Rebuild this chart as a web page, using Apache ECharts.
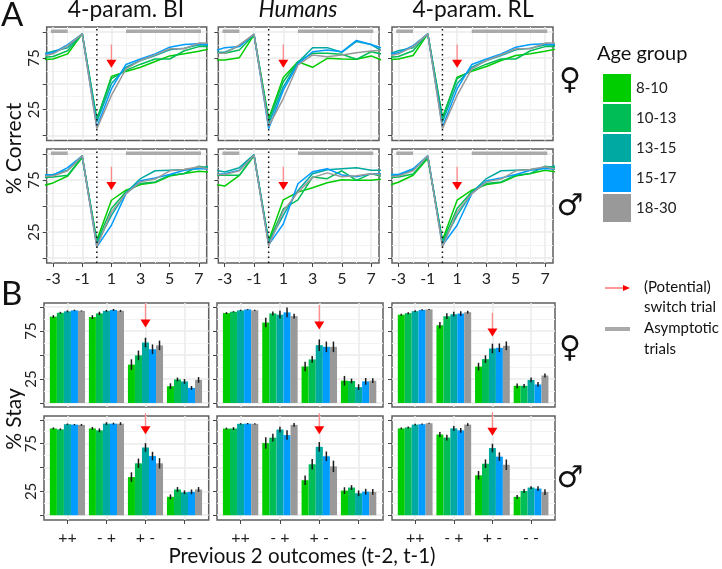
<!DOCTYPE html>
<html><head><meta charset="utf-8">
<style>html,body{margin:0;padding:0;background:#fff}#c{width:722px;height:569px}</style>
<script src="https://cdn.jsdelivr.net/npm/echarts@6/dist/echarts.min.js"></script>
</head><body><div id="c"></div>
<script>
// ---------- data ----------
const ageGroups = ['8-10','10-13','13-15','15-17','18-30'];
const ageColors = ['#00cd00','#00bd55','#00a9a1','#009cff','#999999'];
const trials = [-4,-3,-2,-1,0,1,2,3,4,5,6,7,8];
const trialTicks = [-3,-1,1,3,5,7];
const trialMinor = [-2,0,2,4,6];
const pctTicks = [0,25,50,75,100];
const pctMinor = [12.5,37.5,62.5,87.5];
const pctLabels = [25,75];
const outcomes = ['++','- +','+ -','- -'];
const outcomeIdx = [0,1,2,3];
const asymptotic = [[-3.15,101],[-2,101],[null,null],[2,101],[7.15,101]];

const correctFemaleBI = [
 [73,74,79,98.4,14.5,57,62,66,71.6,77,79,81.6,84.5],
 [75,76.5,82,98.4,16,55,63,69,74,74,82,86,86],
 [77.4,81.6,85,98.4,13,50,66,72.6,77.4,83,84.5,87.7,87],
 [78,80,88,98.4,8,45,68.7,74,79,85.5,88,88.7,87.7],
 [75.8,79,87,98.4,6.5,38.7,64.5,72.6,78,84,84,89.4,89.4]];
const correctFemaleHuman = [
 [73,73,75.3,97.4,16.2,56,71.4,66,74.7,74,73.7,77,71.4],
 [79.5,79.5,82.8,97.4,14.6,52,71.4,79.5,79.5,78.6,73.7,81,78],
 [80.5,80.5,86.7,98,11.4,47,70.5,85,85,80.5,91,88,79.5],
 [80.5,85,86,98,6.5,43.8,69,81,82.8,81,92,88,83.4],
 [79.5,79.5,87.7,98,8.8,35.7,68,78,76.3,78,80,81.8,82.8]];
const correctFemaleRL = [
 [73,74,77.4,98.4,16,56.5,62,66.8,72.6,77.4,79,81.6,84.5],
 [75,76.5,82,98.4,17.7,55,63,69,74,74,82,86,86],
 [77.4,82,85,98.4,13,50,66,72.6,77.4,83,84.5,87.7,87],
 [78,80,87,98.4,8,45,68.7,74,79,85.5,88,88.7,87.7],
 [75.8,79,86,98.4,6.5,38.7,64.5,72.6,78,84,84,89.4,89.4]];
const correctMaleBI = [
 [68.5,72.3,79,96.8,17,55.6,65.3,70.7,72.7,79,81.4,83.6,82.3],
 [77,78,79.7,97.4,15.4,47.6,63.7,71.7,73.3,79.7,81.4,88.4,86.2],
 [79.7,80.4,84.6,98.4,13.8,41,62.7,76.5,84,84.6,85.2,86.2,89.4],
 [80.4,79.7,87,98.4,10.6,31.5,62,74.3,77,80.4,84.6,86.2,85.2],
 [78,79,84,98.4,10.6,44.4,62,73.3,76,84,85.2,87.8,84.6]];
const correctMaleHuman = [
 [71.5,69.3,79.6,98.4,16.5,56,63.4,67.6,72.5,75.4,74.8,74.8,76.4],
 [79.6,79.6,79.6,99,15,47.2,56,78,76.4,84,74.8,81.2,78],
 [85.4,82.8,87,99.7,15,41,65,81.2,85,86,87,84.5,84.5],
 [80,81.2,84.5,99,12.6,32.7,71.5,83,86,80,78.3,81.2,81.2],
 [80.5,80.5,84,99,11.6,45.3,63.4,77.4,82,78.3,79.3,81.2,79.6]];
const correctMaleRL = [
 [68.5,72.9,79.7,96,17,55.6,65.3,70.7,72.7,79,81.4,84.6,82.3],
 [77,78,81,97,15.4,47.6,63.7,71.7,73.3,79.7,81.4,88.4,86.2],
 [79.7,79.7,84.6,98.4,13.8,41,62.7,76.5,84,84.6,85.2,87,89.4],
 [80.4,80.4,86,98.4,12.2,31.5,62,74.3,77,80.4,84.6,86.2,85.2],
 [78,79,84,98.4,10.6,44.4,62,73.3,76,84,85.2,87.8,84.6]];

// stay %: one row per outcome pair, one value per age group
const stayFemaleBI = [[90,94,95.5,96.5,96],[89.5,93.4,96,97,96],[40,49.6,63,56,60],[17.5,24.5,22.4,15.7,24]];
const errFemaleBI  = [[1.5,1,1,.7,.5],[2,1.7,1,1,1],[5.5,5,5,5,5],[3,2,2.5,2,3]];
const stayFemaleHuman = [[93.7,95,96.5,97.5,96.5],[83.8,93.3,92,94.4,90.5],[38,45.4,60.2,58.5,58.5],[23.2,22.9,16.5,22.5,23.2]];
const errFemaleHuman  = [[1,.7,.7,.5,.7],[5,2,4,5,2.5],[5,3.5,6,5.5,5.5],[5,2.5,3,3.5,2.5]];
const stayFemaleRL = [[92,93.6,95.7,97,97.5],[81,90.4,92.5,93.2,94.6],[37.9,45.7,56.8,57.5,59.6],[17.9,17.9,24,19.3,28.6]];
const errFemaleRL  = [[1,1,1,.7,.5],[3.5,3,2.5,2.5,1.5],[4,4,5,4.5,4.5],[2.5,2,2.5,2.5,2]];
const stayMaleBI = [[91,90,95.4,95,94.7],[91,89,96,96,96],[40,54.4,71,62,54.4],[19.3,27,24,24.5,27]];
const errMaleBI  = [[1,1,.7,.7,1],[1.5,2,1.5,1,1.5],[5,5,4.5,4.5,5.5],[2.5,2.5,2,2.5,2.5]];
const stayMaleHuman = [[90.8,90.8,95.8,96,95.8],[75.6,81.3,89.8,84,94.7],[36.7,53.4,71.7,61.8,51.2],[25.8,29,23,24.7,24.4]];
const errMaleHuman  = [[1,1.5,.7,.7,.7],[6,4,3,5,2],[5,5.5,5,5,6],[3.5,2.5,3,3,3]];
const stayMaleRL = [[91,92,95,95.4,96.4],[84.6,81.4,91,89,95],[41.8,54,70.4,61.4,52.9],[19.3,25.4,29,27.9,24.3]];
const errMaleRL  = [[1,1,1,.7,.5],[2.5,3,2.5,2.5,1.5],[4.5,4.5,4.5,4.5,5.5],[2,2,1.5,2.5,3]];

// ---------- layout ----------
const FONT = 'Lato';
const panelsA = [
 {d:correctFemaleBI,   l:46.7, w:160, t:27,  h:113.5, lab:true,  bottom:false},
 {d:correctFemaleHuman,l:218.3,w:160.7,t:27,  h:113.5, lab:false, bottom:false},
 {d:correctFemaleRL,   l:392,  w:161,  t:27,  h:113.5, lab:false, bottom:false},
 {d:correctMaleBI,     l:46.7, w:160,  t:149, h:114,   lab:true,  bottom:true},
 {d:correctMaleHuman,  l:218.3,w:160.7,t:149, h:114,   lab:false, bottom:true},
 {d:correctMaleRL,     l:392,  w:161,  t:149, h:114,   lab:false, bottom:true}];
const panelsB = [
 {d:stayFemaleBI,   e:errFemaleBI,   l:44, w:164.7,t:303,h:104,ymin:-4.2,ymax:104.2,lab:true, bottom:false,top:104,head:82.8},
 {d:stayFemaleHuman,e:errFemaleHuman,l:217,w:166,  t:303,h:104,ymin:-4.2,ymax:104.2,lab:false,bottom:false,top:102,head:80.7},
 {d:stayFemaleRL,   e:errFemaleRL,   l:392,w:163,  t:303,h:104,ymin:-4.2,ymax:104.2,lab:false,bottom:false,top:94, head:73.4},
 {d:stayMaleBI,     e:errMaleBI,     l:44, w:164.7,t:416,h:104,ymin:-5,ymax:104,lab:true, bottom:true,top:107,head:89},
 {d:stayMaleHuman,  e:errMaleHuman,  l:217,w:166,  t:416,h:104,ymin:-5,ymax:104,lab:false,bottom:true,top:107,head:89},
 {d:stayMaleRL,     e:errMaleRL,     l:392,w:163,  t:416,h:104,ymin:-5,ymax:104,lab:false,bottom:true,top:108,head:87.4}];

const grid=[], xAxis=[], yAxis=[], series=[];
const FRAME='#5f5f5f', MAJOR='#ebebeb', MINOR='#f3f3f3', TICK='#444';
const tickLab = {color:'#222', fontFamily:FONT};
const NOLINE = {show:false,onZero:false};

function addYAxes(p, g, min, max){
  yAxis.push({gridIndex:g,type:'value',min,max,position:'left',
    axisLine:NOLINE,
    axisTick:{show:true,length:4,customValues:pctTicks,lineStyle:{color:TICK,width:1}},
    axisLabel:{show:p.lab,customValues:pctLabels,rotate:90,margin:5,fontSize:15,...tickLab,align:'center',verticalAlign:'bottom'},
    splitLine:{show:true,lineStyle:{color:MAJOR,width:1.5}}});
  yAxis.push({gridIndex:g,type:'value',min,max,position:'left',
    axisLine:NOLINE,axisLabel:{show:false},
    axisTick:{show:false,customValues:pctMinor},
    splitLine:{show:true,lineStyle:{color:MINOR,width:1}}});
}
function arrow(xi,yi,x,top,head){
  series.push({type:'line',xAxisIndex:xi,yAxisIndex:yi,clip:false,silent:true,symbol:'none',z:6,
    lineStyle:{color:'#ff8a8a',width:1.3},data:[[x,top],[x,head]]});
  series.push({type:'scatter',xAxisIndex:xi,yAxisIndex:yi,clip:false,silent:true,z:7,
    symbol:'triangle',symbolRotate:180,symbolSize:[10,8],itemStyle:{color:'#ff0000',opacity:1},data:[[x,head]]});
}

panelsA.forEach((p)=>{
  const g=grid.length;
  grid.push({left:p.l,top:p.t,width:p.w,height:p.h,show:true,backgroundColor:'#fff',borderColor:FRAME,borderWidth:1.5});
  const xi=xAxis.length, yi=yAxis.length;
  xAxis.push({gridIndex:g,type:'value',min:-3.44,max:7.54,position:'bottom',
    axisLine:NOLINE,
    axisTick:{show:p.bottom,length:4,customValues:trialTicks,lineStyle:{color:TICK,width:1}},
    axisLabel:{show:p.bottom,customValues:trialTicks,margin:8,fontSize:16,...tickLab},
    splitLine:{show:true,lineStyle:{color:MAJOR,width:1.5}}});
  xAxis.push({gridIndex:g,type:'value',min:-3.44,max:7.54,position:'bottom',
    axisLine:NOLINE,axisLabel:{show:false},
    axisTick:{show:false,customValues:trialMinor},
    splitLine:{show:true,lineStyle:{color:MINOR,width:1}}});
  addYAxes(p,g,-4.9,105);
  series.push({type:'line',xAxisIndex:xi,yAxisIndex:yi,silent:true,symbol:'none',z:2,connectNulls:false,
    lineStyle:{color:'#aaaaaa',width:3.5},data:asymptotic});
  series.push({type:'line',xAxisIndex:xi,yAxisIndex:yi,silent:true,symbol:'none',z:5,clip:false,
    lineStyle:{color:'#111',width:1.5,type:[1.5,3.5]},data:[[0,-4.9],[0,105]]});
  ageGroups.forEach((name,i)=>{
    series.push({type:'line',name,xAxisIndex:xi,yAxisIndex:yi,symbol:'none',z:3,clip:true,
      itemStyle:{color:ageColors[i]},lineStyle:{color:ageColors[i],width:1.5},
      data:trials.map((t,k)=>[t,p.d[i][k]])});
  });
  arrow(xi,yi,1,88,69.4);
});

panelsB.forEach((p)=>{
  // framed grid: axes, gridlines, error bars, arrow
  const g=grid.length;
  grid.push({left:p.l,top:p.t,width:p.w,height:p.h,show:true,backgroundColor:'#fff',borderColor:FRAME,borderWidth:1.5});
  const xi=xAxis.length, yi=yAxis.length;
  const xMin=-0.6, xMax=3.62;
  xAxis.push({gridIndex:g,type:'value',min:xMin,max:xMax,position:'bottom',
    axisLine:NOLINE,
    axisTick:{show:p.bottom,length:4,customValues:outcomeIdx,lineStyle:{color:TICK,width:1}},
    axisLabel:{show:p.bottom,customValues:outcomeIdx,margin:10,fontSize:16,...tickLab,formatter:v=>outcomes[v]},
    splitLine:{show:true,lineStyle:{color:MAJOR,width:1.5}}});
  addYAxes(p,g,p.ymin,p.ymax);
  // inner grid exactly spanning the four category bands, for the bars
  const unit=p.w/(xMax-xMin);
  const g2=grid.length;
  grid.push({left:p.l+(-0.5-xMin)*unit,top:p.t,width:4*unit,height:p.h,show:false});
  const xb=xAxis.length, yb=yAxis.length;
  xAxis.push({gridIndex:g2,type:'category',data:outcomes,show:false});
  yAxis.push({gridIndex:g2,type:'value',min:p.ymin,max:p.ymax,show:false});
  ageGroups.forEach((name,i)=>{
    series.push({type:'bar',name,xAxisIndex:xb,yAxisIndex:yb,z:3,barCategoryGap:'10%',barGap:'0%',
      itemStyle:{color:ageColors[i]},
      data:outcomeIdx.map(k=>p.d[k][i])});
  });
  ageGroups.forEach((name,i)=>{
    series.push({type:'custom',xAxisIndex:xi,yAxisIndex:yi,z:4,silent:true,clip:false,
      renderItem:(params,api)=>{
        const a=api.coord([api.value(0),api.value(1)]), b=api.coord([api.value(0),api.value(2)]);
        const dx=(i-2)*0.9/5*unit;
        return {type:'line',shape:{x1:a[0]+dx,y1:a[1],x2:a[0]+dx,y2:b[1]},style:{stroke:'#1a1a1a',lineWidth:1.5}};
      },
      encode:{x:0,y:[1,2]},
      data:outcomeIdx.map(k=>[k,p.d[k][i]-p.e[k][i],p.d[k][i]+p.e[k][i]])});
  });
  arrow(xi,yi,2,p.top,p.head);
});

function txt(x,y,text,size,extra){
  return {type:'text',x,y,silent:true,style:{text,fontSize:size,fontFamily:FONT,fill:'#111',
    textAlign:'left',textVerticalAlign:'middle',...extra}};
}
const graphics=[
  txt(1,15,'A',33), txt(1,294,'B',33),
  txt(126,10,'4-param. BI',22.8,{textAlign:'center'}),
  txt(298,10,'Humans',22.8,{textAlign:'center',fontStyle:'italic'}),
  txt(473,10,'4-param. RL',22.8,{textAlign:'center'}),
  txt(14,148.5,'% Correct',21,{textAlign:'center'}),
  txt(14,419,'% Stay',21,{textAlign:'center'}),
  txt(302,556,'Previous 2 outcomes (t-2, t-1)',20.5,{textAlign:'center'}),
  txt(597,54,'Age group',20),
  txt(644,287,'(Potential)',15), txt(644,307,'switch trial',15),
  txt(644,328,'Asymptotic',15), txt(644,349,'trials',15),
  {type:'line',silent:true,shape:{x1:605,y1:288,x2:624,y2:288},style:{stroke:'#ff3030',lineWidth:1}},
  {type:'polygon',silent:true,shape:{points:[[623,285],[630,288],[623,291]]},style:{fill:'#ff0000'}},
  {type:'line',silent:true,shape:{x1:605,y1:329,x2:630,y2:329},style:{stroke:'#aaaaaa',lineWidth:4}}
];
[[570,81,'♀'],[570,207,'♂'],[570,349,'♀'],[570,479,'♂']].forEach(a=>{
  graphics.push(txt(a[0],a[1],a[2],30,{textAlign:'center',fontFamily:'DejaVu Sans',fill:'#111'}));
});
graphics.find(g=>g.style.text==='% Correct').rotation=Math.PI/2;
graphics.find(g=>g.style.text==='% Stay').rotation=Math.PI/2;

const chart=echarts.init(document.getElementById('c'),null,{renderer:'canvas'});
chart.setOption({
  animation:false,
  backgroundColor:'#ffffff',
  grid,xAxis,yAxis,series,
  graphic:graphics,
  legend:{show:true,data:ageGroups,orient:'vertical',left:603,top:74,padding:0,
    icon:'rect',itemWidth:28,itemHeight:28,itemGap:2,selectedMode:false,
    textStyle:{fontFamily:FONT,fontSize:15,color:'#222',padding:[5,0,0,0]}}
});
</script>
</body></html>
